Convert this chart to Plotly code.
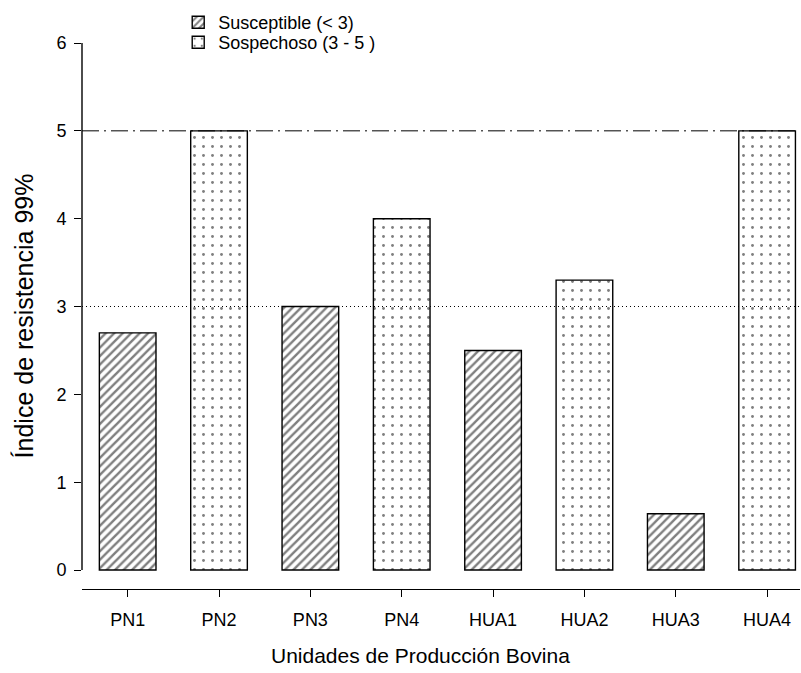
import plotly.graph_objects as go

categories = ["PN1", "PN2", "PN3", "PN4", "HUA1", "HUA2", "HUA3", "HUA4"]
susc_cats = ["PN1", "PN3", "HUA1", "HUA3"]
susc_vals = [2.7, 3.0, 2.5, 0.64]
sosp_cats = ["PN2", "PN4", "HUA2", "HUA4"]
sosp_vals = [5.0, 4.0, 3.3, 5.0]
ref_lines = [5, 3]
y_ticks = [0, 1, 2, 3, 4, 5, 6]

FONT = "Liberation Sans, Arial, sans-serif"

fig = go.Figure()
fig.add_trace(go.Bar(
    x=susc_cats, y=susc_vals, name="Susceptible (< 3)", width=0.62, legend="legend",
    marker=dict(color="white", line=dict(color="black", width=1.4),
                pattern=dict(shape="/", fgcolor="black", bgcolor="white", size=6, solidity=0.4)),
))
fig.add_trace(go.Bar(
    x=sosp_cats, y=sosp_vals, name="Sospechoso (3 - 5 )", width=0.62, legend="legend2",
    marker=dict(color="white", line=dict(color="black", width=1.4),
                pattern=dict(shape=".", fgcolor="black", bgcolor="white", size=9, solidity=0.08)),
))

# reference lines
fig.add_shape(type="line", xref="paper", x0=0, x1=1, yref="y", y0=ref_lines[0], y1=ref_lines[0],
              line=dict(color="black", width=1, dash="17px,5px,2px,5px"), layer="above")
fig.add_shape(type="line", xref="paper", x0=0, x1=1, yref="y", y0=ref_lines[1], y1=ref_lines[1],
              line=dict(color="black", width=1, dash="1px,3px"), layer="above")
# y axis line (offset from x axis)
fig.add_shape(type="line", xref="paper", x0=0, x1=0, yref="y", y0=0, y1=6,
              line=dict(color="black", width=1.4))

fig.add_annotation(text="Unidades de Producción Bovina", xref="paper", yref="paper",
                   x=0.472, y=-0.1227, xanchor="center", yanchor="middle", showarrow=False,
                   font=dict(size=21, family=FONT, color="black"))

legend_common = dict(xanchor="left", yanchor="top", font=dict(size=18, family=FONT),
                     bgcolor="rgba(0,0,0,0)", tracegroupgap=0, itemwidth=30)

fig.update_layout(
    width=801, height=673,
    margin=dict(l=82, r=1, t=43, b=84),
    plot_bgcolor="white", paper_bgcolor="white",
    barmode="overlay",
    font=dict(family=FONT, size=18, color="black"),
    showlegend=True,
    legend=dict(x=0.134, y=1.0714, **legend_common),
    legend2=dict(x=0.134, y=1.0348, **legend_common),
    xaxis=dict(categoryorder="array", categoryarray=categories,
               range=[-0.5, 7.36], showline=True, linecolor="black", linewidth=1.4,
               ticks="outside", ticklen=7, tickcolor="black", tickwidth=1.4,
               showgrid=False, zeroline=False, ticklabelstandoff=7,
               tickfont=dict(size=18, family=FONT)),
    yaxis=dict(range=[-0.216, 6], tickvals=y_ticks, showline=False,
               ticks="outside", ticklen=7, tickcolor="black", tickwidth=1.4,
               showgrid=False, zeroline=False, ticklabelstandoff=4,
               tickfont=dict(size=18, family=FONT),
               title=dict(text="Índice de resistencia 99%", font=dict(size=25, family=FONT), standoff=15)),
)

fig.write_html("out.html")
